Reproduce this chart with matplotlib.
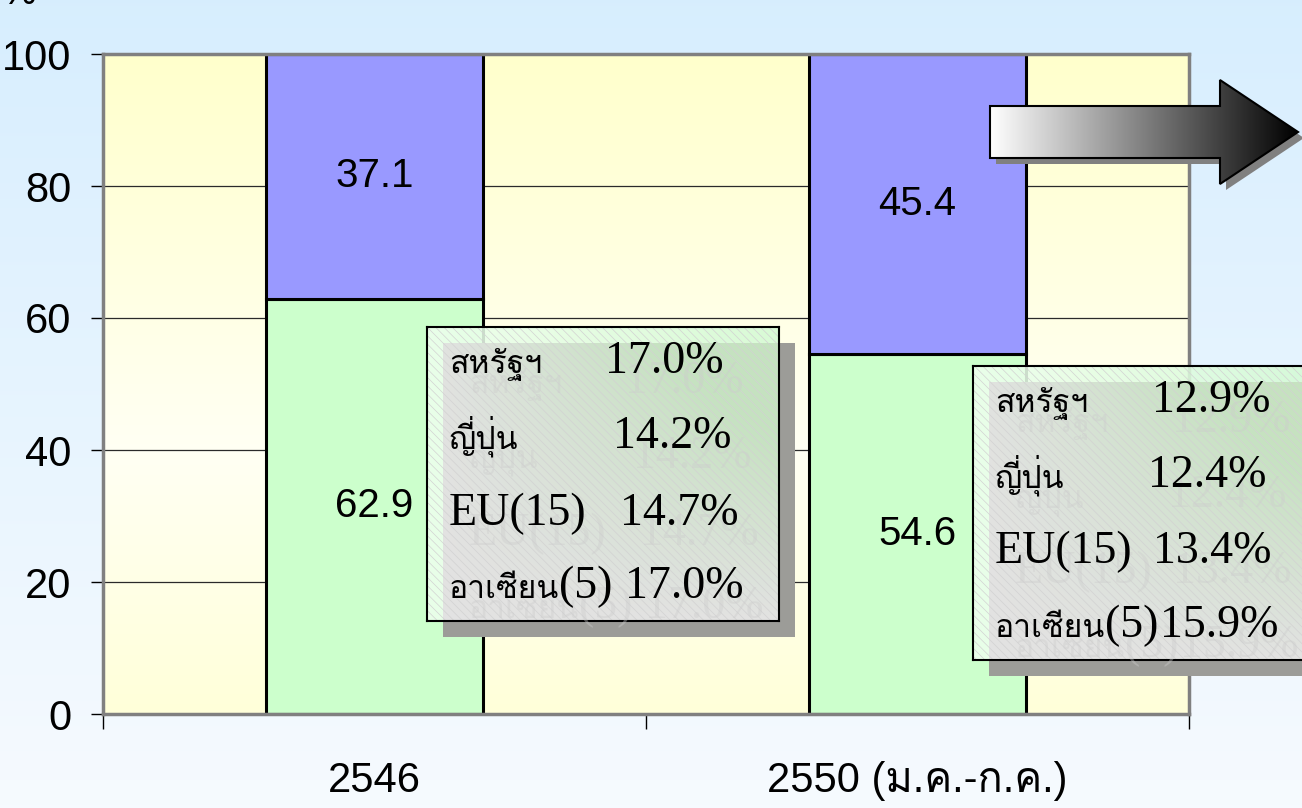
import re
import numpy as np
import matplotlib
matplotlib.use('Agg')
import matplotlib.pyplot as plt
from matplotlib import font_manager as fm
from matplotlib.ft2font import FT2Font
from matplotlib.patches import Rectangle, Polygon

# ---------------- data ----------------
categories = ['2546', '2550 (ม.ค.-ก.ค.)']
share_other = [62.9, 54.6]      # lower (green) segment
share_top4 = [37.1, 45.4]       # upper (blue) segment
yticks = [0, 20, 40, 60, 80, 100]
box_labels = ['สหรัฐฯ', 'ญี่ปุ่น', 'EU(15)', 'อาเซียน(5)']
box_values_2546 = ['17.0%', '14.2%', '14.7%', '17.0%']
box_values_2550 = ['12.9%', '12.4%', '13.4%', '15.9%']

# ---------------- fonts ----------------
def find_thai_font():
    seen = set()
    for f in fm.fontManager.ttflist:
        if f.fname in seen:
            continue
        seen.add(f.fname)
        try:
            if 0x0E2A in FT2Font(f.fname).get_charmap():
                return f.name
        except Exception:
            pass
    return None

THAI = find_thai_font()
SANS = ['Liberation Sans'] + ([THAI] if THAI else []) + ['DejaVu Sans']
SERIF = ['Liberation Serif'] + ([THAI] if THAI else []) + ['DejaVu Serif']
THAI_FAM = ([THAI] if THAI else []) + ['DejaVu Sans']
plt.rcParams['hatch.linewidth'] = 0.5

W, H = 1302, 808
fig = plt.figure(figsize=(W / 100, H / 100), dpi=100)

def fx(x):
    return x / W

def fy(y):
    return 1 - y / H

# ---------------- figure background gradient ----------------
bg = fig.add_axes([0, 0, 1, 1], zorder=-10)
g = np.linspace(0, 1, 256)[:, None, None]
top = np.array([0.843, 0.933, 0.996])
bot = np.array([0.965, 0.982, 1.0])
bg.imshow(top * (1 - g) + bot * g, aspect='auto', extent=(0, 1, 0, 1))
bg.axis('off')

# ---------------- main axes ----------------
ax = fig.add_axes([fx(103), fy(714), 1086 / W, 660 / H], zorder=0)
ax.set_facecolor('none')
v = np.linspace(0, 1, 256)
wlight = np.clip(1 - np.abs(v - 0.6) / 0.6, 0, 1)[:, None, None]
yel = np.array([1.0, 1.0, 0.80])
lig = np.array([1.0, 1.0, 0.955])
ax.imshow(yel * (1 - wlight) + lig * wlight, extent=(-0.5, 1.5, 0, 100),
          aspect='auto', zorder=0)

x = np.arange(len(categories))
ax.bar(x, share_other, width=0.4, color='#ccffcc', edgecolor='black',
       linewidth=2.2, zorder=2)
ax.bar(x, share_top4, bottom=share_other, width=0.4, color='#9999ff',
       edgecolor='black', linewidth=2.2, zorder=2)

for i in range(len(categories)):
    ax.text(x[i], share_other[i] / 2, f'{share_other[i]:.1f}', ha='center',
            va='center', fontsize=29, family=SANS, zorder=3)
    ax.text(x[i], share_other[i] + share_top4[i] / 2, f'{share_top4[i]:.1f}',
            ha='center', va='center', fontsize=29, family=SANS, zorder=3)

ax.set_xlim(-0.5, 1.5)
ax.set_ylim(0, 100)
ax.set_axisbelow(True)
ax.set_yticks(yticks)
ax.yaxis.grid(True, color='#2a2a2a', linewidth=0.9)
ax.tick_params(axis='y', length=9, width=1, pad=14, labelsize=30,
               color='black')
for lab in ax.get_yticklabels():
    lab.set_family(SANS)

ax.set_xticks(x)
ax.set_xticklabels(categories, fontsize=30, family=SANS)
ax.tick_params(axis='x', which='major', length=0, pad=34)
ax.set_xticks([-0.5, 0.5, 1.5], minor=True)
ax.tick_params(axis='x', which='minor', length=11, width=1, color='black')

for s in ax.spines.values():
    s.set_color('#808080')
    s.set_linewidth(2.5)

# cut-off caption at top-left
fig.text(fx(2), fy(4), '%', fontsize=28, family=SANS, va='baseline')

# ---------------- text boxes ----------------
renderer = fig.canvas.get_renderer()
BW, BH, OFF = 352, 294, 16

def box_image():
    yy, xx = np.mgrid[0:BH, 0:BW].astype(float)
    img = np.zeros((BH, BW, 4))
    tx = xx / BW
    outer = np.stack([0.93 - 0.10 * tx, 1.0 - 0.02 * tx, 0.93 - 0.10 * tx], -1)
    t = np.clip((xx / BW) * (1 - yy / BH) * 1.6, 0, 1)[..., None]
    gray = np.array([0.93, 0.93, 0.93])
    green = np.array([0.80, 0.93, 0.78])
    inner = gray * (1 - t) + green * t
    mask = ((xx >= OFF) & (yy >= OFF))[..., None]
    img[..., :3] = np.where(mask, inner, outer)
    img[..., 3] = 0.88
    return img

IMG = box_image()

def split_runs(s):
    return re.findall(r'[\u0E00-\u0E7F]+|[^\u0E00-\u0E7F]+', s)

def put_label(xp, yp, s, color, z):
    for run in split_runs(s):
        thai = bool(re.match(r'[\u0E00-\u0E7F]', run))
        t = fig.text(xp / W, fy(yp), run, fontsize=23 if thai else 33,
                     family=THAI_FAM if thai else SERIF, color=color,
                     va='baseline', ha='left', zorder=z)
        bb = t.get_window_extent(renderer)
        xp = bb.x1
    return xp

def draw_box(x0, y0, values, label_x, num_x, baselines, gap):
    sh = Rectangle((fx(x0 + OFF), fy(y0 + OFF + BH)), BW / W, BH / H,
                   transform=fig.transFigure, facecolor='#9c9c98',
                   edgecolor='none', zorder=2)
    fig.add_artist(sh)
    bax = fig.add_axes([fx(x0), fy(y0 + BH), BW / W, BH / H], zorder=3)
    bax.imshow(IMG, extent=(0, BW, BH, 0), aspect='auto')
    bax.add_patch(Rectangle((0, 0), BW, BH, fill=False, hatch='\\\\\\\\',
                            edgecolor='#d2d2d2', linewidth=0))
    bax.set_xlim(0, BW)
    bax.set_ylim(BH, 0)
    bax.set_xticks([])
    bax.set_yticks([])
    bax.patch.set_visible(False)
    for s in bax.spines.values():
        s.set_color('black')
        s.set_linewidth(1.5)
    ghost = (0.80, 0.80, 0.80, 0.4)
    for lab, val, nx, by in zip(box_labels, values, num_x, baselines):
        end = put_label(label_x + 20, by + 20, lab, ghost, 4)
        fig.text(fx(max(nx + 20, end + gap)), fy(by + 20), val, fontsize=33,
                 family=SERIF, color=ghost, va='baseline', zorder=4)
        end = put_label(label_x, by, lab, 'black', 5)
        fig.text(fx(max(nx, end + gap)), fy(by), val, fontsize=33,
                 family=SERIF, color='black', va='baseline', zorder=5)

draw_box(427, 327, box_values_2546, 449, [605, 613, 620, 623],
         [373, 448, 525, 598], 12)
draw_box(973, 366, box_values_2550, 995, [1152, 1148, 1153, 1147],
         [412, 487, 563, 637], 1)

# ---------------- arrow ----------------
aax = fig.add_axes([fx(980), fy(195), 322 / W, 120 / H], zorder=6)
pts = np.array([(990, 106), (1220, 106), (1220, 80), (1298, 132),
                (1220, 184), (1220, 158), (990, 158)], dtype=float)
aax.add_patch(Polygon(pts + 6, closed=True, facecolor='#808080',
                      edgecolor='none'))
poly = Polygon(pts, closed=True, facecolor='none', edgecolor='black',
               linewidth=1.5, zorder=3)
im = aax.imshow(np.linspace(1, 0, 256)[None, :], cmap='gray', vmin=0, vmax=1,
                extent=(990, 1298, 184, 80), aspect='auto', zorder=2)
aax.add_patch(poly)
im.set_clip_path(poly)
aax.set_xlim(980, 1302)
aax.set_ylim(195, 75)
aax.axis('off')

fig.savefig('out.png', dpi=100)
